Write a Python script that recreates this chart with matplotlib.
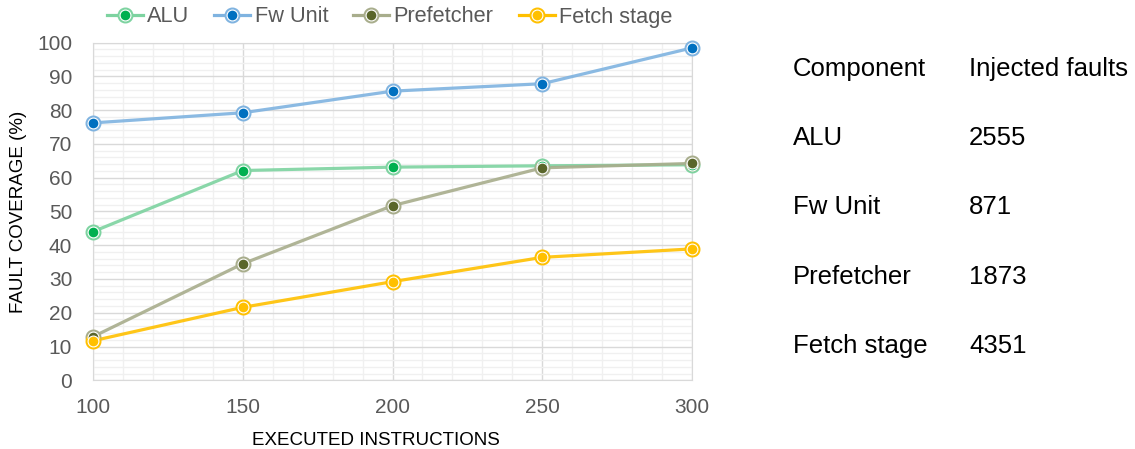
import matplotlib
matplotlib.use("Agg")
import matplotlib.pyplot as plt
from matplotlib.lines import Line2D
from matplotlib.ticker import MultipleLocator
from matplotlib.legend_handler import HandlerTuple

plt.rcParams['font.family'] = ['Liberation Sans', 'DejaVu Sans']

instructions = [100, 150, 200, 250, 300]
alu = [44.0, 62.1, 63.1, 63.5, 63.8]
fw_unit = [76.2, 79.2, 85.6, 87.8, 98.4]
prefetcher = [12.9, 34.5, 51.7, 62.9, 64.2]
fetch_stage = [11.7, 21.6, 29.2, 36.4, 38.9]

series_names = ["ALU", "Fw Unit", "Prefetcher", "Fetch stage"]
line_colors = ["#7dd3a0", "#7fb3e0", "#a8ad8c", "#ffc000"]
marker_colors = ["#00b050", "#0070c0", "#5a662a", "#ffc000"]

components = ["ALU", "Fw Unit", "Prefetcher", "Fetch stage"]
injected_faults = [2555, 871, 1873, 4351]

W, H = 1135, 449
fig = plt.figure(figsize=(W / 100, H / 100), dpi=100)
ax = fig.add_axes([93 / W, 1 - 380.3 / H, (692 - 93) / W, (380.3 - 42.5) / H])

OUTER, INNER = 10.5, 7.8
series = [alu, fw_unit, prefetcher, fetch_stage]
handles = []
for vals, lc, mc in zip(series, line_colors, marker_colors):
    ax.plot(instructions, vals, color=lc, lw=2.3, alpha=0.9, zorder=3,
            solid_capstyle='round', clip_on=False)
    ax.plot(instructions, vals, ls='none', marker='o', ms=OUTER, mfc=lc,
            mec=lc, zorder=4, clip_on=False)
    ax.plot(instructions, vals, ls='none', marker='o', ms=INNER, mfc=mc,
            mec='white', mew=0.8, zorder=5, clip_on=False)
    handles.append((Line2D([], [], color=lc, lw=2.3, marker='o', ms=OUTER,
                           mfc=lc, mec=lc),
                    Line2D([], [], ls='none', marker='o', ms=INNER, mfc=mc,
                           mec='white', mew=0.8)))

ax.set_xlim(100, 300)
ax.set_ylim(0, 100)
ax.xaxis.set_major_locator(MultipleLocator(50))
ax.xaxis.set_minor_locator(MultipleLocator(10))
ax.yaxis.set_major_locator(MultipleLocator(10))
ax.yaxis.set_minor_locator(MultipleLocator(2))
ax.grid(which='major', color='#d9d9d9', lw=1.0, zorder=0)
ax.grid(which='minor', color='#f0f0f0', lw=1.0, zorder=0)
ax.set_axisbelow(True)
for s in ax.spines.values():
    s.set_color('#d9d9d9')
ax.tick_params(which='both', length=0, labelsize=15, colors='#595959')
ax.tick_params(axis='x', pad=13)
ax.tick_params(axis='y', pad=15)
ax.set_xlabel("EXECUTED INSTRUCTIONS", fontsize=13.5, color='black', labelpad=10.5)
ax.xaxis.label.set_x(0.4716)
ax.set_ylabel("FAULT COVERAGE (%)", fontsize=13.5, color='black', labelpad=7)

fig.legend(handles, series_names, loc='center',
           bbox_to_anchor=(389.5 / W, 1 - 17 / H),
           ncol=4, frameon=False, fontsize=15.7, labelcolor='#595959',
           handlelength=1.65, handletextpad=0.2, columnspacing=1.15,
           borderpad=0, borderaxespad=0,
           handler_map={tuple: HandlerTuple(ndivide=1, pad=0)})

# Table of injected faults per component
fs = 18.5
col1, col2 = 793 / W, 969 / W
fig.text(col1, 1 - 76 / H, "Component", fontsize=fs, va='baseline')
fig.text(col2, 1 - 76 / H, "Injected faults", fontsize=fs, va='baseline')
for i, (comp, n) in enumerate(zip(components, injected_faults)):
    y = 1 - (145 + i * 69.3) / H
    fig.text(col1, y, comp, fontsize=fs, va='baseline')
    fig.text(col2, y, str(n), fontsize=fs, va='baseline')

fig.savefig("out.png", dpi=100)
